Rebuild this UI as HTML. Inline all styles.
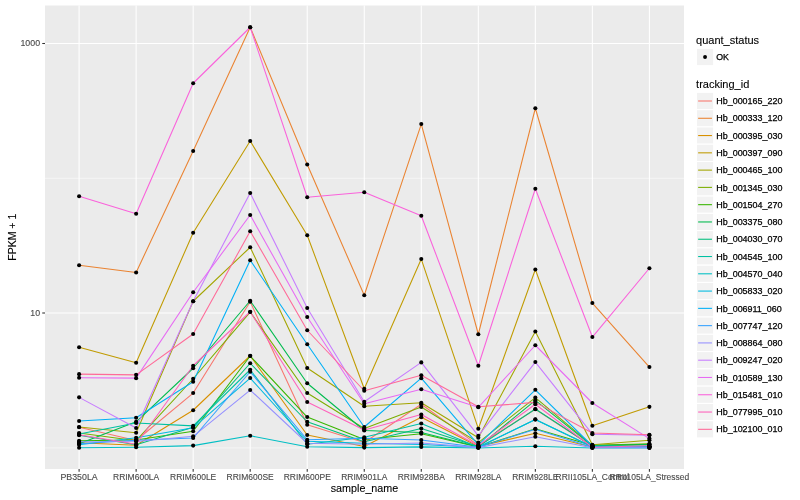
<!DOCTYPE html>
<html lang="en"><head><meta charset="utf-8"><title>Expression plot</title>
<style>html,body{margin:0;padding:0;background:#fff;}body{width:800px;height:500px;overflow:hidden;}svg{display:block;font-family:"Liberation Sans",sans-serif;}</style></head><body>
<svg width="800" height="500" viewBox="0 0 800 500">
<rect width="800" height="500" fill="#ffffff"/>
<rect x="45.0" y="5.5" width="639.00" height="463.50" fill="#EBEBEB"/>
<line x1="45.0" x2="684.0" y1="178.3" y2="178.3" stroke="#fff" stroke-width="0.53"/>
<line x1="45.0" x2="684.0" y1="447.93" y2="447.93" stroke="#fff" stroke-width="0.53"/>
<line x1="45.0" x2="684.0" y1="43.5" y2="43.5" stroke="#fff" stroke-width="1.07"/>
<line x1="45.0" x2="684.0" y1="313.0" y2="313.0" stroke="#fff" stroke-width="1.07"/>
<line x1="79.10" x2="79.10" y1="5.5" y2="469.0" stroke="#fff" stroke-width="1.07"/>
<line x1="136.13" x2="136.13" y1="5.5" y2="469.0" stroke="#fff" stroke-width="1.07"/>
<line x1="193.16" x2="193.16" y1="5.5" y2="469.0" stroke="#fff" stroke-width="1.07"/>
<line x1="250.19" x2="250.19" y1="5.5" y2="469.0" stroke="#fff" stroke-width="1.07"/>
<line x1="307.22" x2="307.22" y1="5.5" y2="469.0" stroke="#fff" stroke-width="1.07"/>
<line x1="364.25" x2="364.25" y1="5.5" y2="469.0" stroke="#fff" stroke-width="1.07"/>
<line x1="421.28" x2="421.28" y1="5.5" y2="469.0" stroke="#fff" stroke-width="1.07"/>
<line x1="478.31" x2="478.31" y1="5.5" y2="469.0" stroke="#fff" stroke-width="1.07"/>
<line x1="535.34" x2="535.34" y1="5.5" y2="469.0" stroke="#fff" stroke-width="1.07"/>
<line x1="592.37" x2="592.37" y1="5.5" y2="469.0" stroke="#fff" stroke-width="1.07"/>
<line x1="649.40" x2="649.40" y1="5.5" y2="469.0" stroke="#fff" stroke-width="1.07"/>
<g fill="none" stroke-width="1.07" stroke-linejoin="round" stroke-linecap="butt">
<polyline points="79.10,427.20 136.13,440.50 193.16,393.05 250.19,301.75 307.22,424.75 364.25,442.50 421.28,404.20 478.31,445.40 535.34,409.30 592.37,446.50 649.40,446.20" stroke="#F8766D"/>
<polyline points="79.10,265.25 136.13,272.45 193.16,151.05 250.19,27.25 307.22,164.45 364.25,295.25 421.28,124.05 478.31,334.25 535.34,108.25 592.37,303.05 649.40,367.05" stroke="#EA8331"/>
<polyline points="79.10,442.75 136.13,445.25 193.16,410.25 250.19,355.75 307.22,435.05 364.25,446.60 421.28,417.20 478.31,446.50 535.34,433.20 592.37,447.00 649.40,446.80" stroke="#D89000"/>
<polyline points="79.10,347.25 136.13,362.75 193.16,232.75 250.19,141.05 307.22,235.25 364.25,388.75 421.28,259.05 478.31,428.70 535.34,269.45 592.37,425.80 649.40,406.85" stroke="#C09B00"/>
<polyline points="79.10,427.00 136.13,432.75 193.16,301.25 250.19,247.25 307.22,368.05 364.25,406.25 421.28,402.80 478.31,437.80 535.34,331.45 592.37,444.80 649.40,440.30" stroke="#A3A500"/>
<polyline points="79.10,433.05 136.13,440.70 193.16,378.75 250.19,312.05 307.22,393.05 364.25,428.50 421.28,407.00 478.31,442.60 535.34,397.60 592.37,445.30 649.40,443.80" stroke="#7CAE00"/>
<polyline points="79.10,440.75 136.13,440.00 193.16,431.30 250.19,356.05 307.22,417.05 364.25,439.50 421.28,433.70 478.31,447.00 535.34,428.80 592.37,445.50 649.40,444.20" stroke="#39B600"/>
<polyline points="79.10,443.80 136.13,421.80 193.16,368.25 250.19,300.75 307.22,383.25 364.25,430.50 421.28,432.50 478.31,446.80 535.34,400.30 592.37,445.80 649.40,444.60" stroke="#00BB4E"/>
<polyline points="79.10,435.20 136.13,444.70 193.16,427.30 250.19,363.25 307.22,421.75 364.25,441.80 421.28,428.60 478.31,446.60 535.34,409.00 592.37,446.30 649.40,446.30" stroke="#00BF7D"/>
<polyline points="79.10,434.00 136.13,423.00 193.16,425.90 250.19,369.75 307.22,444.25 364.25,437.20 421.28,423.50 478.31,447.20 535.34,419.40 592.37,446.80 649.40,446.60" stroke="#00C1A3"/>
<polyline points="79.10,447.75 136.13,447.25 193.16,445.60 250.19,435.75 307.22,446.75 364.25,447.60 421.28,446.90 478.31,447.93 535.34,446.30 592.37,447.93 649.40,447.93" stroke="#00BFC4"/>
<polyline points="79.10,444.75 136.13,437.80 193.16,427.80 250.19,378.05 307.22,441.25 364.25,443.30 421.28,444.50 478.31,447.30 535.34,419.50 592.37,447.00 649.40,447.00" stroke="#00BAE0"/>
<polyline points="79.10,420.95 136.13,417.75 193.16,381.75 250.19,260.25 307.22,344.25 364.25,427.00 421.28,378.20 478.31,444.80 535.34,389.80 592.37,446.00 649.40,446.80" stroke="#00B0F6"/>
<polyline points="79.10,443.75 136.13,440.30 193.16,438.00 250.19,371.75 307.22,439.75 364.25,438.20 421.28,440.00 478.31,447.30 535.34,429.30 592.37,447.30 649.40,447.50" stroke="#35A2FF"/>
<polyline points="79.10,441.75 136.13,441.50 193.16,436.30 250.19,390.05 307.22,443.25 364.25,444.20 421.28,443.00 478.31,447.60 535.34,436.70 592.37,447.70 649.40,447.80" stroke="#9590FF"/>
<polyline points="79.10,397.35 136.13,427.95 193.16,301.25 250.19,193.05 307.22,308.05 364.25,401.75 421.28,362.40 478.31,435.80 535.34,362.05 592.37,434.20 649.40,435.30" stroke="#C77CFF"/>
<polyline points="79.10,377.75 136.13,378.15 193.16,292.25 250.19,215.05 307.22,317.05 364.25,403.75 421.28,389.25 478.31,407.30 535.34,345.25 592.37,403.00 649.40,438.60" stroke="#E76BF3"/>
<polyline points="79.10,196.25 136.13,213.75 193.16,83.25 250.19,27.25 307.22,197.25 364.25,192.25 421.28,215.75 478.31,365.75 535.34,188.75 592.37,337.05 649.40,268.25" stroke="#FA62DB"/>
<polyline points="79.10,434.75 136.13,444.25 193.16,365.75 250.19,311.75 307.22,402.05 364.25,430.00 421.28,414.50 478.31,445.70 535.34,404.30 592.37,447.20 649.40,445.70" stroke="#FF62BC"/>
<polyline points="79.10,374.15 136.13,374.85 193.16,334.05 250.19,231.25 307.22,330.25 364.25,390.75 421.28,375.30 478.31,406.80 535.34,402.40 592.37,433.00 649.40,434.80" stroke="#FF6A98"/>
</g>
<g fill="#000">
<circle cx="79.10" cy="427.20" r="2.05"/>
<circle cx="136.13" cy="440.50" r="2.05"/>
<circle cx="193.16" cy="393.05" r="2.05"/>
<circle cx="250.19" cy="301.75" r="2.05"/>
<circle cx="307.22" cy="424.75" r="2.05"/>
<circle cx="364.25" cy="442.50" r="2.05"/>
<circle cx="421.28" cy="404.20" r="2.05"/>
<circle cx="478.31" cy="445.40" r="2.05"/>
<circle cx="535.34" cy="409.30" r="2.05"/>
<circle cx="592.37" cy="446.50" r="2.05"/>
<circle cx="649.40" cy="446.20" r="2.05"/>
<circle cx="79.10" cy="265.25" r="2.05"/>
<circle cx="136.13" cy="272.45" r="2.05"/>
<circle cx="193.16" cy="151.05" r="2.05"/>
<circle cx="250.19" cy="27.25" r="2.05"/>
<circle cx="307.22" cy="164.45" r="2.05"/>
<circle cx="364.25" cy="295.25" r="2.05"/>
<circle cx="421.28" cy="124.05" r="2.05"/>
<circle cx="478.31" cy="334.25" r="2.05"/>
<circle cx="535.34" cy="108.25" r="2.05"/>
<circle cx="592.37" cy="303.05" r="2.05"/>
<circle cx="649.40" cy="367.05" r="2.05"/>
<circle cx="79.10" cy="442.75" r="2.05"/>
<circle cx="136.13" cy="445.25" r="2.05"/>
<circle cx="193.16" cy="410.25" r="2.05"/>
<circle cx="250.19" cy="355.75" r="2.05"/>
<circle cx="307.22" cy="435.05" r="2.05"/>
<circle cx="364.25" cy="446.60" r="2.05"/>
<circle cx="421.28" cy="417.20" r="2.05"/>
<circle cx="478.31" cy="446.50" r="2.05"/>
<circle cx="535.34" cy="433.20" r="2.05"/>
<circle cx="592.37" cy="447.00" r="2.05"/>
<circle cx="649.40" cy="446.80" r="2.05"/>
<circle cx="79.10" cy="347.25" r="2.05"/>
<circle cx="136.13" cy="362.75" r="2.05"/>
<circle cx="193.16" cy="232.75" r="2.05"/>
<circle cx="250.19" cy="141.05" r="2.05"/>
<circle cx="307.22" cy="235.25" r="2.05"/>
<circle cx="364.25" cy="388.75" r="2.05"/>
<circle cx="421.28" cy="259.05" r="2.05"/>
<circle cx="478.31" cy="428.70" r="2.05"/>
<circle cx="535.34" cy="269.45" r="2.05"/>
<circle cx="592.37" cy="425.80" r="2.05"/>
<circle cx="649.40" cy="406.85" r="2.05"/>
<circle cx="79.10" cy="427.00" r="2.05"/>
<circle cx="136.13" cy="432.75" r="2.05"/>
<circle cx="193.16" cy="301.25" r="2.05"/>
<circle cx="250.19" cy="247.25" r="2.05"/>
<circle cx="307.22" cy="368.05" r="2.05"/>
<circle cx="364.25" cy="406.25" r="2.05"/>
<circle cx="421.28" cy="402.80" r="2.05"/>
<circle cx="478.31" cy="437.80" r="2.05"/>
<circle cx="535.34" cy="331.45" r="2.05"/>
<circle cx="592.37" cy="444.80" r="2.05"/>
<circle cx="649.40" cy="440.30" r="2.05"/>
<circle cx="79.10" cy="433.05" r="2.05"/>
<circle cx="136.13" cy="440.70" r="2.05"/>
<circle cx="193.16" cy="378.75" r="2.05"/>
<circle cx="250.19" cy="312.05" r="2.05"/>
<circle cx="307.22" cy="393.05" r="2.05"/>
<circle cx="364.25" cy="428.50" r="2.05"/>
<circle cx="421.28" cy="407.00" r="2.05"/>
<circle cx="478.31" cy="442.60" r="2.05"/>
<circle cx="535.34" cy="397.60" r="2.05"/>
<circle cx="592.37" cy="445.30" r="2.05"/>
<circle cx="649.40" cy="443.80" r="2.05"/>
<circle cx="79.10" cy="440.75" r="2.05"/>
<circle cx="136.13" cy="440.00" r="2.05"/>
<circle cx="193.16" cy="431.30" r="2.05"/>
<circle cx="250.19" cy="356.05" r="2.05"/>
<circle cx="307.22" cy="417.05" r="2.05"/>
<circle cx="364.25" cy="439.50" r="2.05"/>
<circle cx="421.28" cy="433.70" r="2.05"/>
<circle cx="478.31" cy="447.00" r="2.05"/>
<circle cx="535.34" cy="428.80" r="2.05"/>
<circle cx="592.37" cy="445.50" r="2.05"/>
<circle cx="649.40" cy="444.20" r="2.05"/>
<circle cx="79.10" cy="443.80" r="2.05"/>
<circle cx="136.13" cy="421.80" r="2.05"/>
<circle cx="193.16" cy="368.25" r="2.05"/>
<circle cx="250.19" cy="300.75" r="2.05"/>
<circle cx="307.22" cy="383.25" r="2.05"/>
<circle cx="364.25" cy="430.50" r="2.05"/>
<circle cx="421.28" cy="432.50" r="2.05"/>
<circle cx="478.31" cy="446.80" r="2.05"/>
<circle cx="535.34" cy="400.30" r="2.05"/>
<circle cx="592.37" cy="445.80" r="2.05"/>
<circle cx="649.40" cy="444.60" r="2.05"/>
<circle cx="79.10" cy="435.20" r="2.05"/>
<circle cx="136.13" cy="444.70" r="2.05"/>
<circle cx="193.16" cy="427.30" r="2.05"/>
<circle cx="250.19" cy="363.25" r="2.05"/>
<circle cx="307.22" cy="421.75" r="2.05"/>
<circle cx="364.25" cy="441.80" r="2.05"/>
<circle cx="421.28" cy="428.60" r="2.05"/>
<circle cx="478.31" cy="446.60" r="2.05"/>
<circle cx="535.34" cy="409.00" r="2.05"/>
<circle cx="592.37" cy="446.30" r="2.05"/>
<circle cx="649.40" cy="446.30" r="2.05"/>
<circle cx="79.10" cy="434.00" r="2.05"/>
<circle cx="136.13" cy="423.00" r="2.05"/>
<circle cx="193.16" cy="425.90" r="2.05"/>
<circle cx="250.19" cy="369.75" r="2.05"/>
<circle cx="307.22" cy="444.25" r="2.05"/>
<circle cx="364.25" cy="437.20" r="2.05"/>
<circle cx="421.28" cy="423.50" r="2.05"/>
<circle cx="478.31" cy="447.20" r="2.05"/>
<circle cx="535.34" cy="419.40" r="2.05"/>
<circle cx="592.37" cy="446.80" r="2.05"/>
<circle cx="649.40" cy="446.60" r="2.05"/>
<circle cx="79.10" cy="447.75" r="2.05"/>
<circle cx="136.13" cy="447.25" r="2.05"/>
<circle cx="193.16" cy="445.60" r="2.05"/>
<circle cx="250.19" cy="435.75" r="2.05"/>
<circle cx="307.22" cy="446.75" r="2.05"/>
<circle cx="364.25" cy="447.60" r="2.05"/>
<circle cx="421.28" cy="446.90" r="2.05"/>
<circle cx="478.31" cy="447.93" r="2.05"/>
<circle cx="535.34" cy="446.30" r="2.05"/>
<circle cx="592.37" cy="447.93" r="2.05"/>
<circle cx="649.40" cy="447.93" r="2.05"/>
<circle cx="79.10" cy="444.75" r="2.05"/>
<circle cx="136.13" cy="437.80" r="2.05"/>
<circle cx="193.16" cy="427.80" r="2.05"/>
<circle cx="250.19" cy="378.05" r="2.05"/>
<circle cx="307.22" cy="441.25" r="2.05"/>
<circle cx="364.25" cy="443.30" r="2.05"/>
<circle cx="421.28" cy="444.50" r="2.05"/>
<circle cx="478.31" cy="447.30" r="2.05"/>
<circle cx="535.34" cy="419.50" r="2.05"/>
<circle cx="592.37" cy="447.00" r="2.05"/>
<circle cx="649.40" cy="447.00" r="2.05"/>
<circle cx="79.10" cy="420.95" r="2.05"/>
<circle cx="136.13" cy="417.75" r="2.05"/>
<circle cx="193.16" cy="381.75" r="2.05"/>
<circle cx="250.19" cy="260.25" r="2.05"/>
<circle cx="307.22" cy="344.25" r="2.05"/>
<circle cx="364.25" cy="427.00" r="2.05"/>
<circle cx="421.28" cy="378.20" r="2.05"/>
<circle cx="478.31" cy="444.80" r="2.05"/>
<circle cx="535.34" cy="389.80" r="2.05"/>
<circle cx="592.37" cy="446.00" r="2.05"/>
<circle cx="649.40" cy="446.80" r="2.05"/>
<circle cx="79.10" cy="443.75" r="2.05"/>
<circle cx="136.13" cy="440.30" r="2.05"/>
<circle cx="193.16" cy="438.00" r="2.05"/>
<circle cx="250.19" cy="371.75" r="2.05"/>
<circle cx="307.22" cy="439.75" r="2.05"/>
<circle cx="364.25" cy="438.20" r="2.05"/>
<circle cx="421.28" cy="440.00" r="2.05"/>
<circle cx="478.31" cy="447.30" r="2.05"/>
<circle cx="535.34" cy="429.30" r="2.05"/>
<circle cx="592.37" cy="447.30" r="2.05"/>
<circle cx="649.40" cy="447.50" r="2.05"/>
<circle cx="79.10" cy="441.75" r="2.05"/>
<circle cx="136.13" cy="441.50" r="2.05"/>
<circle cx="193.16" cy="436.30" r="2.05"/>
<circle cx="250.19" cy="390.05" r="2.05"/>
<circle cx="307.22" cy="443.25" r="2.05"/>
<circle cx="364.25" cy="444.20" r="2.05"/>
<circle cx="421.28" cy="443.00" r="2.05"/>
<circle cx="478.31" cy="447.60" r="2.05"/>
<circle cx="535.34" cy="436.70" r="2.05"/>
<circle cx="592.37" cy="447.70" r="2.05"/>
<circle cx="649.40" cy="447.80" r="2.05"/>
<circle cx="79.10" cy="397.35" r="2.05"/>
<circle cx="136.13" cy="427.95" r="2.05"/>
<circle cx="193.16" cy="301.25" r="2.05"/>
<circle cx="250.19" cy="193.05" r="2.05"/>
<circle cx="307.22" cy="308.05" r="2.05"/>
<circle cx="364.25" cy="401.75" r="2.05"/>
<circle cx="421.28" cy="362.40" r="2.05"/>
<circle cx="478.31" cy="435.80" r="2.05"/>
<circle cx="535.34" cy="362.05" r="2.05"/>
<circle cx="592.37" cy="434.20" r="2.05"/>
<circle cx="649.40" cy="435.30" r="2.05"/>
<circle cx="79.10" cy="377.75" r="2.05"/>
<circle cx="136.13" cy="378.15" r="2.05"/>
<circle cx="193.16" cy="292.25" r="2.05"/>
<circle cx="250.19" cy="215.05" r="2.05"/>
<circle cx="307.22" cy="317.05" r="2.05"/>
<circle cx="364.25" cy="403.75" r="2.05"/>
<circle cx="421.28" cy="389.25" r="2.05"/>
<circle cx="478.31" cy="407.30" r="2.05"/>
<circle cx="535.34" cy="345.25" r="2.05"/>
<circle cx="592.37" cy="403.00" r="2.05"/>
<circle cx="649.40" cy="438.60" r="2.05"/>
<circle cx="79.10" cy="196.25" r="2.05"/>
<circle cx="136.13" cy="213.75" r="2.05"/>
<circle cx="193.16" cy="83.25" r="2.05"/>
<circle cx="250.19" cy="27.25" r="2.05"/>
<circle cx="307.22" cy="197.25" r="2.05"/>
<circle cx="364.25" cy="192.25" r="2.05"/>
<circle cx="421.28" cy="215.75" r="2.05"/>
<circle cx="478.31" cy="365.75" r="2.05"/>
<circle cx="535.34" cy="188.75" r="2.05"/>
<circle cx="592.37" cy="337.05" r="2.05"/>
<circle cx="649.40" cy="268.25" r="2.05"/>
<circle cx="79.10" cy="434.75" r="2.05"/>
<circle cx="136.13" cy="444.25" r="2.05"/>
<circle cx="193.16" cy="365.75" r="2.05"/>
<circle cx="250.19" cy="311.75" r="2.05"/>
<circle cx="307.22" cy="402.05" r="2.05"/>
<circle cx="364.25" cy="430.00" r="2.05"/>
<circle cx="421.28" cy="414.50" r="2.05"/>
<circle cx="478.31" cy="445.70" r="2.05"/>
<circle cx="535.34" cy="404.30" r="2.05"/>
<circle cx="592.37" cy="447.20" r="2.05"/>
<circle cx="649.40" cy="445.70" r="2.05"/>
<circle cx="79.10" cy="374.15" r="2.05"/>
<circle cx="136.13" cy="374.85" r="2.05"/>
<circle cx="193.16" cy="334.05" r="2.05"/>
<circle cx="250.19" cy="231.25" r="2.05"/>
<circle cx="307.22" cy="330.25" r="2.05"/>
<circle cx="364.25" cy="390.75" r="2.05"/>
<circle cx="421.28" cy="375.30" r="2.05"/>
<circle cx="478.31" cy="406.80" r="2.05"/>
<circle cx="535.34" cy="402.40" r="2.05"/>
<circle cx="592.37" cy="433.00" r="2.05"/>
<circle cx="649.40" cy="434.80" r="2.05"/>
</g>
<g stroke="#333" stroke-width="1.07">
<line x1="42.25" x2="45.0" y1="43.5" y2="43.5"/>
<line x1="42.25" x2="45.0" y1="313.0" y2="313.0"/>
<line x1="79.10" x2="79.10" y1="469.0" y2="471.75"/>
<line x1="136.13" x2="136.13" y1="469.0" y2="471.75"/>
<line x1="193.16" x2="193.16" y1="469.0" y2="471.75"/>
<line x1="250.19" x2="250.19" y1="469.0" y2="471.75"/>
<line x1="307.22" x2="307.22" y1="469.0" y2="471.75"/>
<line x1="364.25" x2="364.25" y1="469.0" y2="471.75"/>
<line x1="421.28" x2="421.28" y1="469.0" y2="471.75"/>
<line x1="478.31" x2="478.31" y1="469.0" y2="471.75"/>
<line x1="535.34" x2="535.34" y1="469.0" y2="471.75"/>
<line x1="592.37" x2="592.37" y1="469.0" y2="471.75"/>
<line x1="649.40" x2="649.40" y1="469.0" y2="471.75"/>
</g>
<g font-size="8.8" fill="#4A4A4A" stroke="#4A4A4A" stroke-width="0.12">
<text x="40.05" y="46" text-anchor="end">1000</text>
<text x="40.05" y="316" text-anchor="end">10</text>
<text x="79.10" y="480" text-anchor="middle" textLength="37.18" lengthAdjust="spacingAndGlyphs">PB350LA</text>
<text x="136.13" y="480" text-anchor="middle" textLength="46.25" lengthAdjust="spacingAndGlyphs">RRIM600LA</text>
<text x="193.16" y="480" text-anchor="middle" textLength="46.25" lengthAdjust="spacingAndGlyphs">RRIM600LE</text>
<text x="250.19" y="480" text-anchor="middle" textLength="47.19" lengthAdjust="spacingAndGlyphs">RRIM600SE</text>
<text x="307.22" y="480" text-anchor="middle" textLength="47.19" lengthAdjust="spacingAndGlyphs">RRIM600PE</text>
<text x="364.25" y="480" text-anchor="middle" textLength="46.25" lengthAdjust="spacingAndGlyphs">RRIM901LA</text>
<text x="421.28" y="480" text-anchor="middle" textLength="47.19" lengthAdjust="spacingAndGlyphs">RRIM928BA</text>
<text x="478.31" y="480" text-anchor="middle" textLength="46.25" lengthAdjust="spacingAndGlyphs">RRIM928LA</text>
<text x="535.34" y="480" text-anchor="middle" textLength="46.25" lengthAdjust="spacingAndGlyphs">RRIM928LE</text>
<text x="592.37" y="480" text-anchor="middle" textLength="73.63" lengthAdjust="spacingAndGlyphs">RRII105LA_Control</text>
<text x="649.40" y="480" text-anchor="middle" textLength="79.77" lengthAdjust="spacingAndGlyphs">RRII105LA_Stressed</text>
</g>
<g font-size="11" fill="#000" stroke="#000" stroke-width="0.1">
<text x="364.50" y="492" text-anchor="middle" textLength="67.50" lengthAdjust="spacingAndGlyphs">sample_name</text>
<text transform="translate(15.6,237.25) rotate(-90)" text-anchor="middle" textLength="47.00" lengthAdjust="spacingAndGlyphs">FPKM + 1</text>
</g>
<text x="696.1" y="44" font-size="11" fill="#000" stroke="#000" stroke-width="0.1">quant_status</text>
<rect x="696.4" y="48.36" width="17.28" height="17.28" fill="#F2F2F2" stroke="#fff" stroke-width="1.07"/>
<circle cx="705.04" cy="57.0" r="1.95" fill="#000"/>
<text x="716.28" y="60" font-size="8.8" fill="#000" stroke="#000" stroke-width="0.25">OK</text>
<text x="696.1" y="88" font-size="11" fill="#000" stroke="#000" stroke-width="0.1">tracking_id</text>
<rect x="696.4" y="92.36" width="17.28" height="17.28" fill="#F2F2F2" stroke="#fff" stroke-width="1.07"/>
<line x1="698.13" x2="711.95" y1="101.00" y2="101.00" stroke="#F8766D" stroke-width="1.07"/>
<text x="716.28" y="104" font-size="8.8" fill="#000" stroke="#000" stroke-width="0.25" textLength="66.12" lengthAdjust="spacingAndGlyphs">Hb_000165_220</text>
<rect x="696.4" y="109.64" width="17.28" height="17.28" fill="#F2F2F2" stroke="#fff" stroke-width="1.07"/>
<line x1="698.13" x2="711.95" y1="118.28" y2="118.28" stroke="#EA8331" stroke-width="1.07"/>
<text x="716.28" y="121" font-size="8.8" fill="#000" stroke="#000" stroke-width="0.25" textLength="66.12" lengthAdjust="spacingAndGlyphs">Hb_000333_120</text>
<rect x="696.4" y="126.92" width="17.28" height="17.28" fill="#F2F2F2" stroke="#fff" stroke-width="1.07"/>
<line x1="698.13" x2="711.95" y1="135.56" y2="135.56" stroke="#D89000" stroke-width="1.07"/>
<text x="716.28" y="139" font-size="8.8" fill="#000" stroke="#000" stroke-width="0.25" textLength="66.12" lengthAdjust="spacingAndGlyphs">Hb_000395_030</text>
<rect x="696.4" y="144.20" width="17.28" height="17.28" fill="#F2F2F2" stroke="#fff" stroke-width="1.07"/>
<line x1="698.13" x2="711.95" y1="152.84" y2="152.84" stroke="#C09B00" stroke-width="1.07"/>
<text x="716.28" y="156" font-size="8.8" fill="#000" stroke="#000" stroke-width="0.25" textLength="66.12" lengthAdjust="spacingAndGlyphs">Hb_000397_090</text>
<rect x="696.4" y="161.48" width="17.28" height="17.28" fill="#F2F2F2" stroke="#fff" stroke-width="1.07"/>
<line x1="698.13" x2="711.95" y1="170.12" y2="170.12" stroke="#A3A500" stroke-width="1.07"/>
<text x="716.28" y="173" font-size="8.8" fill="#000" stroke="#000" stroke-width="0.25" textLength="66.12" lengthAdjust="spacingAndGlyphs">Hb_000465_100</text>
<rect x="696.4" y="178.76" width="17.28" height="17.28" fill="#F2F2F2" stroke="#fff" stroke-width="1.07"/>
<line x1="698.13" x2="711.95" y1="187.40" y2="187.40" stroke="#7CAE00" stroke-width="1.07"/>
<text x="716.28" y="191" font-size="8.8" fill="#000" stroke="#000" stroke-width="0.25" textLength="66.12" lengthAdjust="spacingAndGlyphs">Hb_001345_030</text>
<rect x="696.4" y="196.04" width="17.28" height="17.28" fill="#F2F2F2" stroke="#fff" stroke-width="1.07"/>
<line x1="698.13" x2="711.95" y1="204.68" y2="204.68" stroke="#39B600" stroke-width="1.07"/>
<text x="716.28" y="208" font-size="8.8" fill="#000" stroke="#000" stroke-width="0.25" textLength="66.12" lengthAdjust="spacingAndGlyphs">Hb_001504_270</text>
<rect x="696.4" y="213.32" width="17.28" height="17.28" fill="#F2F2F2" stroke="#fff" stroke-width="1.07"/>
<line x1="698.13" x2="711.95" y1="221.96" y2="221.96" stroke="#00BB4E" stroke-width="1.07"/>
<text x="716.28" y="225" font-size="8.8" fill="#000" stroke="#000" stroke-width="0.25" textLength="66.12" lengthAdjust="spacingAndGlyphs">Hb_003375_080</text>
<rect x="696.4" y="230.60" width="17.28" height="17.28" fill="#F2F2F2" stroke="#fff" stroke-width="1.07"/>
<line x1="698.13" x2="711.95" y1="239.24" y2="239.24" stroke="#00BF7D" stroke-width="1.07"/>
<text x="716.28" y="242" font-size="8.8" fill="#000" stroke="#000" stroke-width="0.25" textLength="66.12" lengthAdjust="spacingAndGlyphs">Hb_004030_070</text>
<rect x="696.4" y="247.88" width="17.28" height="17.28" fill="#F2F2F2" stroke="#fff" stroke-width="1.07"/>
<line x1="698.13" x2="711.95" y1="256.52" y2="256.52" stroke="#00C1A3" stroke-width="1.07"/>
<text x="716.28" y="260" font-size="8.8" fill="#000" stroke="#000" stroke-width="0.25" textLength="66.12" lengthAdjust="spacingAndGlyphs">Hb_004545_100</text>
<rect x="696.4" y="265.16" width="17.28" height="17.28" fill="#F2F2F2" stroke="#fff" stroke-width="1.07"/>
<line x1="698.13" x2="711.95" y1="273.80" y2="273.80" stroke="#00BFC4" stroke-width="1.07"/>
<text x="716.28" y="277" font-size="8.8" fill="#000" stroke="#000" stroke-width="0.25" textLength="66.12" lengthAdjust="spacingAndGlyphs">Hb_004570_040</text>
<rect x="696.4" y="282.44" width="17.28" height="17.28" fill="#F2F2F2" stroke="#fff" stroke-width="1.07"/>
<line x1="698.13" x2="711.95" y1="291.08" y2="291.08" stroke="#00BAE0" stroke-width="1.07"/>
<text x="716.28" y="294" font-size="8.8" fill="#000" stroke="#000" stroke-width="0.25" textLength="66.12" lengthAdjust="spacingAndGlyphs">Hb_005833_020</text>
<rect x="696.4" y="299.72" width="17.28" height="17.28" fill="#F2F2F2" stroke="#fff" stroke-width="1.07"/>
<line x1="698.13" x2="711.95" y1="308.36" y2="308.36" stroke="#00B0F6" stroke-width="1.07"/>
<text x="716.28" y="312" font-size="8.8" fill="#000" stroke="#000" stroke-width="0.25" textLength="65.46" lengthAdjust="spacingAndGlyphs">Hb_006911_060</text>
<rect x="696.4" y="317.00" width="17.28" height="17.28" fill="#F2F2F2" stroke="#fff" stroke-width="1.07"/>
<line x1="698.13" x2="711.95" y1="325.64" y2="325.64" stroke="#35A2FF" stroke-width="1.07"/>
<text x="716.28" y="329" font-size="8.8" fill="#000" stroke="#000" stroke-width="0.25" textLength="66.12" lengthAdjust="spacingAndGlyphs">Hb_007747_120</text>
<rect x="696.4" y="334.28" width="17.28" height="17.28" fill="#F2F2F2" stroke="#fff" stroke-width="1.07"/>
<line x1="698.13" x2="711.95" y1="342.92" y2="342.92" stroke="#9590FF" stroke-width="1.07"/>
<text x="716.28" y="346" font-size="8.8" fill="#000" stroke="#000" stroke-width="0.25" textLength="66.12" lengthAdjust="spacingAndGlyphs">Hb_008864_080</text>
<rect x="696.4" y="351.56" width="17.28" height="17.28" fill="#F2F2F2" stroke="#fff" stroke-width="1.07"/>
<line x1="698.13" x2="711.95" y1="360.20" y2="360.20" stroke="#C77CFF" stroke-width="1.07"/>
<text x="716.28" y="363" font-size="8.8" fill="#000" stroke="#000" stroke-width="0.25" textLength="66.12" lengthAdjust="spacingAndGlyphs">Hb_009247_020</text>
<rect x="696.4" y="368.84" width="17.28" height="17.28" fill="#F2F2F2" stroke="#fff" stroke-width="1.07"/>
<line x1="698.13" x2="711.95" y1="377.48" y2="377.48" stroke="#E76BF3" stroke-width="1.07"/>
<text x="716.28" y="381" font-size="8.8" fill="#000" stroke="#000" stroke-width="0.25" textLength="66.12" lengthAdjust="spacingAndGlyphs">Hb_010589_130</text>
<rect x="696.4" y="386.12" width="17.28" height="17.28" fill="#F2F2F2" stroke="#fff" stroke-width="1.07"/>
<line x1="698.13" x2="711.95" y1="394.76" y2="394.76" stroke="#FA62DB" stroke-width="1.07"/>
<text x="716.28" y="398" font-size="8.8" fill="#000" stroke="#000" stroke-width="0.25" textLength="66.12" lengthAdjust="spacingAndGlyphs">Hb_015481_010</text>
<rect x="696.4" y="403.40" width="17.28" height="17.28" fill="#F2F2F2" stroke="#fff" stroke-width="1.07"/>
<line x1="698.13" x2="711.95" y1="412.04" y2="412.04" stroke="#FF62BC" stroke-width="1.07"/>
<text x="716.28" y="415" font-size="8.8" fill="#000" stroke="#000" stroke-width="0.25" textLength="66.12" lengthAdjust="spacingAndGlyphs">Hb_077995_010</text>
<rect x="696.4" y="420.68" width="17.28" height="17.28" fill="#F2F2F2" stroke="#fff" stroke-width="1.07"/>
<line x1="698.13" x2="711.95" y1="429.32" y2="429.32" stroke="#FF6A98" stroke-width="1.07"/>
<text x="716.28" y="432" font-size="8.8" fill="#000" stroke="#000" stroke-width="0.25" textLength="66.12" lengthAdjust="spacingAndGlyphs">Hb_102100_010</text>
</svg></body></html>
